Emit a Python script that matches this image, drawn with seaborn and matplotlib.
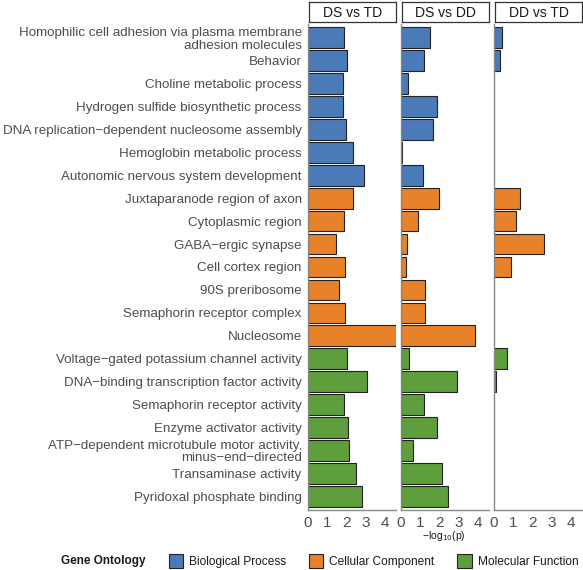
import numpy as np
import pandas as pd
import matplotlib.pyplot as plt
from matplotlib.patches import Patch
import seaborn as sns

sns.set_theme(style='white')
plt.rcParams['font.family'] = ['Liberation Sans', 'DejaVu Sans']

# Data
terms = ['Homophilic cell adhesion via plasma membrane\nadhesion molecules',
         'Behavior',
         'Choline metabolic process',
         'Hydrogen sulfide biosynthetic process',
         'DNA replication\u2212dependent nucleosome assembly',
         'Hemoglobin metabolic process',
         'Autonomic nervous system development',
         'Juxtaparanode region of axon',
         'Cytoplasmic region',
         'GABA\u2212ergic synapse',
         'Cell cortex region',
         '90S preribosome',
         'Semaphorin receptor complex',
         'Nucleosome',
         'Voltage\u2212gated potassium channel activity',
         'DNA\u2212binding transcription factor activity',
         'Semaphorin receptor activity',
         'Enzyme activator activity',
         'ATP\u2212dependent microtubule motor activity,\nminus\u2212end\u2212directed',
         'Transaminase activity',
         'Pyridoxal phosphate binding']
ontology = ['Biological Process'] * 7 + ['Cellular Component'] * 7 + ['Molecular Function'] * 7
ds_vs_td = [1.87, 2.04, 1.80, 1.80, 1.99, 2.34, 2.91,
            2.34, 1.84, 1.44, 1.89, 1.58, 1.90, 4.55,
            2.04, 3.03, 1.87, 2.08, 2.11, 2.46, 2.77]
ds_vs_dd = [1.52, 1.18, 0.36, 1.87, 1.65, 0.03, 1.13,
            1.99, 0.87, 0.33, 0.28, 1.23, 1.23, 3.81,
            0.40, 2.87, 1.21, 1.84, 0.64, 2.10, 2.42]
dd_vs_td = [0.40, 0.33, np.nan, np.nan, np.nan, np.nan, np.nan,
            1.35, 1.16, 2.61, 0.88, np.nan, np.nan, np.nan,
            0.68, 0.09, np.nan, np.nan, np.nan, np.nan, np.nan]
panels = ['DS vs TD', 'DS vs DD', 'DD vs TD']
colors = {'Biological Process': '#4A7AB8',
          'Cellular Component': '#E8822A',
          'Molecular Function': '#5E9E3C'}

df = pd.DataFrame({'term': terms, 'ontology': ontology,
                   'DS vs TD': ds_vs_td, 'DS vs DD': ds_vs_dd, 'DD vs TD': dd_vs_td})

W, H = 583, 570
fig = plt.figure(figsize=(W / 100, H / 100), dpi=100)
grey = '#888888'
txt = '#4D4D4D'

lefts = [308, 401, 494]
pw = 88
for i, (name, left) in enumerate(zip(panels, lefts)):
    ax = fig.add_axes([left / W, 1 - 510 / H, pw / W, (510 - 24) / H])
    sns.barplot(data=df, y='term', x=name, hue='ontology', order=terms,
                palette=colors, dodge=False, width=0.9, saturation=1,
                edgecolor='#222222', linewidth=0.8, legend=False, ax=ax)
    ax.set_xlim(0, 4.55)
    ax.set_ylim(20.6, -0.6)
    ax.set_xticks([0, 1, 2, 3, 4])
    ax.set_xlabel('')
    ax.set_ylabel('')
    for s in ['top', 'right']:
        ax.spines[s].set_visible(False)
    for s in ['left', 'bottom']:
        ax.spines[s].set_color(grey)
        ax.spines[s].set_linewidth(1.0)
    ax.tick_params(axis='x', length=3, color=grey, labelsize=11, labelcolor=txt, pad=1)
    if i == 0:
        ax.tick_params(axis='y', length=3, color=grey, labelsize=9.6, labelcolor=txt, pad=1.5)
        for lab in ax.get_yticklabels():
            lab.set_linespacing(1.05)
    else:
        ax.set_yticklabels([])
        ax.tick_params(axis='y', length=0)

    # strip header
    sax = fig.add_axes([(left + 1) / W, 1 - 22 / H, (pw - 1) / W, 20 / H])
    sax.set_xticks([])
    sax.set_yticks([])
    for s in sax.spines.values():
        s.set_color('#333333')
        s.set_linewidth(0.9)
    sax.text(0.5, 0.45, name, ha='center', va='center', fontsize=10,
             color='#1A1A1A', transform=sax.transAxes)

fig.text(444 / W, 1 - 536 / H, '\u2212log$_{10}$(p)', ha='center', va='center',
         fontsize=7.5, color='#1A1A1A')

# legend
fig.text(61 / W, 1 - 561 / H, 'Gene Ontology', ha='left', va='center',
         fontsize=8.5, fontweight='bold', color='#1A1A1A')
handles = [Patch(facecolor=c, edgecolor='#222222', linewidth=0.8, label=k)
           for k, c in colors.items()]
fig.legend(handles=handles, loc='center left', bbox_to_anchor=(169 / W, 1 - 561 / H),
           ncol=3, frameon=False, fontsize=8.6, handlelength=1.2, handleheight=1.4,
           handletextpad=0.5, columnspacing=1.9, borderaxespad=0, borderpad=0,
           labelcolor='#1A1A1A')

fig.savefig('out.png', dpi=100)
